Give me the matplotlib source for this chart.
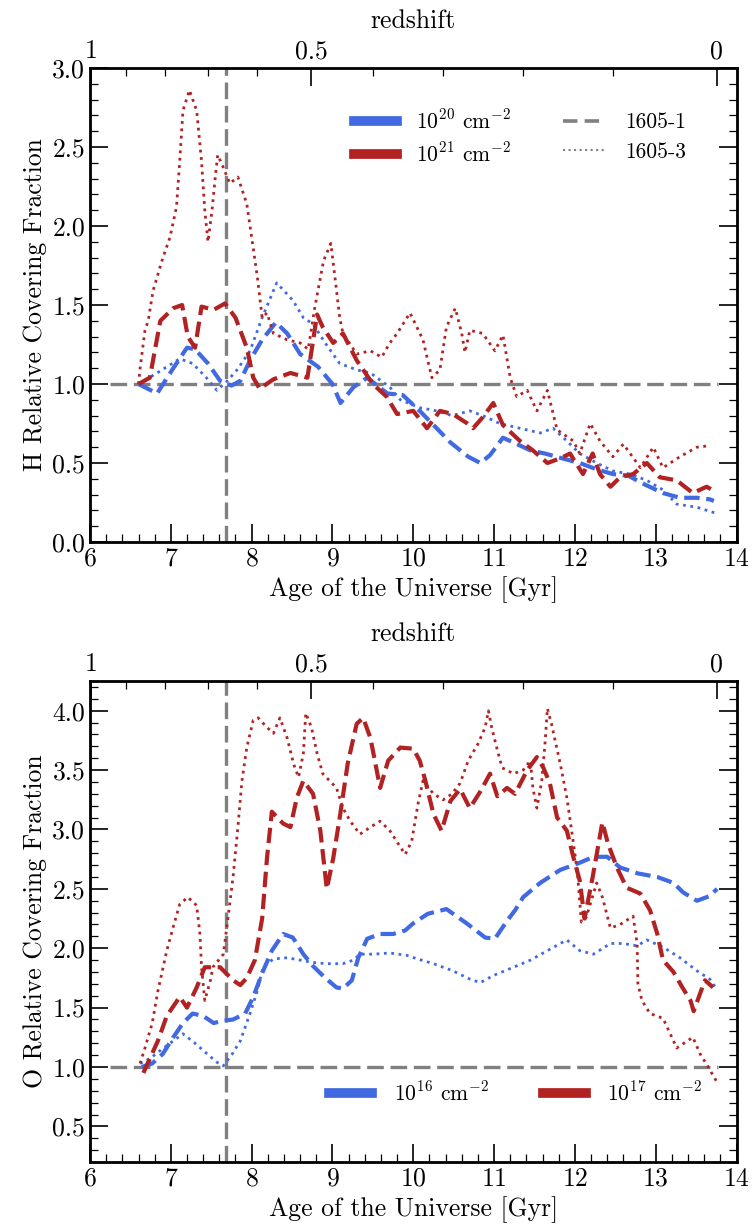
import numpy as np
import matplotlib
matplotlib.use("Agg")
import matplotlib.pyplot as plt
from matplotlib.lines import Line2D
from matplotlib.ticker import MultipleLocator

plt.rcParams["font.family"] = "serif"
plt.rcParams["font.serif"] = ["cmr10"]
plt.rcParams["mathtext.fontset"] = "cm"
plt.rcParams["axes.formatter.use_mathtext"] = True
plt.rcParams["axes.unicode_minus"] = False

BLUE = "royalblue"
RED = "firebrick"
GRAY = "gray"

# ---- H covering fraction (top panel) ----
h20_1_age = [6.60, 6.83, 7.03, 7.20, 7.30, 7.46, 7.61, 7.75, 7.86, 7.98, 8.13, 8.30, 8.44, 8.60, 8.82,
             9.00, 9.10, 9.26, 9.43, 9.68, 9.87, 10.08, 10.29, 10.46, 10.68, 10.83, 10.95, 11.11,
             11.24, 11.45, 11.63, 11.84, 12.06, 12.27, 12.47, 12.66, 12.84, 13.09, 13.30, 13.51, 13.67, 13.72]
h20_1_val = [1.00, 0.94, 1.10, 1.23, 1.22, 1.13, 1.02, 0.99, 1.02, 1.15, 1.28, 1.39, 1.32, 1.19, 1.11,
             1.00, 0.88, 0.98, 1.04, 0.94, 0.93, 0.83, 0.72, 0.63, 0.54, 0.50, 0.55, 0.66,
             0.63, 0.58, 0.56, 0.53, 0.50, 0.46, 0.43, 0.42, 0.37, 0.31, 0.28, 0.28, 0.27, 0.26]

h20_3_age = [6.60, 6.83, 7.11, 7.27, 7.44, 7.57, 7.70, 7.82, 7.98, 8.13, 8.31, 8.51, 8.64, 8.76, 8.91,
             9.09, 9.30, 9.47, 9.71, 9.84, 10.08, 10.29, 10.48, 10.70, 10.86, 11.07, 11.32, 11.57,
             11.73, 11.90, 12.06, 12.27, 12.47, 12.68, 12.89, 13.09, 13.26, 13.51, 13.76]
h20_3_val = [1.00, 1.07, 1.16, 1.13, 1.04, 0.96, 1.02, 1.09, 1.21, 1.42, 1.64, 1.53, 1.42, 1.38, 1.26,
             1.13, 1.09, 1.07, 0.98, 0.90, 0.85, 0.83, 0.80, 0.83, 0.80, 0.75, 0.72, 0.69,
             0.72, 0.64, 0.56, 0.50, 0.45, 0.43, 0.39, 0.33, 0.24, 0.22, 0.18]

h21_1_age = [6.60, 6.74, 6.87, 7.03, 7.14, 7.21, 7.30, 7.38, 7.53, 7.67, 7.80, 7.94, 8.02, 8.10, 8.27,
             8.48, 8.69, 8.81, 8.88, 9.01, 9.13, 9.30, 9.50, 9.67, 9.80, 10.00, 10.17, 10.33, 10.49,
             10.67, 10.74, 10.86, 10.99, 11.11, 11.32, 11.48, 11.66, 11.82, 11.94, 12.10, 12.22,
             12.31, 12.44, 12.56, 12.72, 12.89, 13.05, 13.26, 13.46, 13.63, 13.70]
h21_1_val = [1.00, 1.04, 1.40, 1.48, 1.50, 1.30, 1.23, 1.49, 1.47, 1.51, 1.42, 1.23, 1.04, 0.97, 1.03,
             1.07, 1.04, 1.44, 1.36, 1.26, 1.32, 1.15, 1.00, 0.92, 0.81, 0.83, 0.72, 0.83, 0.81,
             0.75, 0.72, 0.79, 0.88, 0.74, 0.64, 0.58, 0.50, 0.53, 0.56, 0.43, 0.56,
             0.43, 0.35, 0.41, 0.43, 0.50, 0.41, 0.39, 0.31, 0.35, 0.33]

h21_3_age = [6.60, 6.62, 6.68, 6.72, 6.78, 6.89, 6.99, 7.07, 7.11, 7.15, 7.23, 7.32, 7.38, 7.42, 7.46,
             7.51, 7.55, 7.58, 7.65, 7.73, 7.83, 7.94, 8.00, 8.07, 8.13, 8.19, 8.27, 8.44, 8.60,
             8.70, 8.78, 8.89, 8.98, 9.03, 9.09, 9.13, 9.30, 9.47, 9.61, 9.71, 9.80, 9.96, 10.12,
             10.23, 10.33, 10.41, 10.52, 10.60, 10.64, 10.70, 10.86, 11.01, 11.11, 11.20, 11.28,
             11.41, 11.53, 11.66, 11.78, 11.98, 12.06, 12.19, 12.31, 12.47, 12.60, 12.81, 12.97,
             13.09, 13.30, 13.51, 13.67]
h21_3_val = [1.00, 1.10, 1.34, 1.40, 1.59, 1.78, 1.93, 2.12, 2.41, 2.73, 2.86, 2.73, 2.41, 2.10, 1.90,
             2.10, 2.31, 2.45, 2.37, 2.27, 2.31, 2.14, 1.93, 1.68, 1.42, 1.45, 1.32, 1.28, 1.26,
             1.22, 1.48, 1.78, 1.89, 1.68, 1.42, 1.32, 1.19, 1.21, 1.17, 1.26, 1.32, 1.45, 1.28,
             1.04, 1.09, 1.36, 1.48, 1.32, 1.20, 1.34, 1.32, 1.21, 1.31, 1.04, 0.92,
             0.96, 0.83, 0.96, 0.71, 0.64, 0.56, 0.75, 0.64, 0.54, 0.62, 0.47, 0.60,
             0.47, 0.54, 0.60, 0.61]

# ---- O covering fraction (bottom panel) ----
o16_1_age = [6.64, 6.77, 6.90, 7.03, 7.15, 7.27, 7.40, 7.53, 7.65, 7.77, 7.92, 8.02, 8.13, 8.25, 8.39,
             8.51, 8.64, 8.76, 8.91, 9.05, 9.13, 9.24, 9.32, 9.43, 9.59, 9.75, 9.90, 10.00, 10.18,
             10.41, 10.66, 10.89, 11.01, 11.16, 11.26, 11.36, 11.57, 11.82, 12.06, 12.23, 12.40,
             12.56, 12.78, 13.02, 13.22, 13.34, 13.51, 13.67, 13.76]
o16_1_val = [1.00, 1.03, 1.11, 1.25, 1.37, 1.45, 1.43, 1.37, 1.39, 1.40, 1.45, 1.59, 1.79, 1.98, 2.12,
             2.09, 1.95, 1.85, 1.75, 1.67, 1.66, 1.73, 1.92, 2.08, 2.12, 2.12, 2.15, 2.21, 2.29,
             2.33, 2.21, 2.09, 2.08, 2.23, 2.32, 2.43, 2.55, 2.66, 2.72, 2.77, 2.77,
             2.68, 2.63, 2.60, 2.55, 2.47, 2.40, 2.44, 2.50]

o16_3_age = [6.62, 6.74, 6.89, 7.03, 7.15, 7.30, 7.45, 7.57, 7.65, 7.76, 7.86, 7.98, 8.07, 8.14, 8.27,
             8.44, 8.60, 8.76, 8.93, 9.13, 9.26, 9.34, 9.50, 9.71, 9.92, 10.05, 10.25, 10.49, 10.70,
             10.83, 10.99, 11.24, 11.45, 11.66, 11.90, 12.06, 12.23, 12.44, 12.60, 12.77, 12.89,
             13.09, 13.30, 13.51, 13.67, 13.76]
o16_3_val = [1.03, 1.07, 1.15, 1.22, 1.28, 1.20, 1.11, 1.04, 1.01, 1.11, 1.22, 1.45, 1.64, 1.84, 1.91,
             1.92, 1.90, 1.88, 1.87, 1.87, 1.90, 1.95, 1.95, 1.96, 1.94, 1.91, 1.87, 1.81, 1.74,
             1.71, 1.77, 1.84, 1.90, 1.98, 2.07, 1.98, 1.95, 2.04, 2.04, 2.02, 2.07,
             2.01, 1.92, 1.81, 1.74, 1.65]

o17_1_age = [6.66, 6.84, 6.95, 7.11, 7.20, 7.32, 7.42, 7.61, 7.77, 7.86, 7.94, 8.04, 8.13, 8.19, 8.25,
             8.39, 8.48, 8.56, 8.64, 8.76, 8.85, 8.93, 9.01, 9.09, 9.19, 9.30, 9.38, 9.47, 9.55,
             9.59, 9.69, 9.84, 10.00, 10.08, 10.15, 10.25, 10.35, 10.46, 10.58, 10.70, 10.83,
             10.95, 11.04, 11.16, 11.26, 11.41, 11.53, 11.61, 11.69, 11.78, 11.90, 11.98, 12.06,
             12.12, 12.22, 12.34, 12.41, 12.52, 12.64, 12.81, 12.93, 13.02, 13.09, 13.22, 13.33,
             13.43, 13.47, 13.55, 13.61, 13.71]
o17_1_val = [0.95, 1.22, 1.43, 1.59, 1.50, 1.67, 1.84, 1.84, 1.73, 1.69, 1.75, 1.90, 2.25, 2.76, 3.15,
             3.05, 3.02, 3.27, 3.41, 3.30, 2.99, 2.50, 2.76, 3.10, 3.56, 3.89, 3.94, 3.77, 3.49,
             3.35, 3.58, 3.69, 3.68, 3.58, 3.41, 3.13, 2.99, 3.24, 3.34, 3.18, 3.32,
             3.47, 3.28, 3.35, 3.30, 3.50, 3.61, 3.52, 3.39, 3.10, 2.99, 2.77, 2.57,
             2.25, 2.60, 3.06, 2.88, 2.68, 2.51, 2.46, 2.32, 2.12, 1.90, 1.80, 1.67,
             1.56, 1.47, 1.62, 1.73, 1.67]

o17_3_age = [6.62, 6.68, 6.77, 6.84, 6.95, 7.03, 7.11, 7.21, 7.32, 7.36, 7.38, 7.42, 7.49, 7.52, 7.65,
             7.71, 7.77, 7.83, 7.88, 7.94, 8.02, 8.08, 8.19, 8.27, 8.35, 8.44, 8.52, 8.58, 8.64,
             8.67, 8.74, 8.81, 8.88, 9.05, 9.13, 9.22, 9.34, 9.47, 9.59, 9.71, 9.90, 9.98, 10.06,
             10.12, 10.25, 10.37, 10.48, 10.58, 10.68, 10.80, 10.89, 10.93, 10.97, 11.04, 11.10,
             11.24, 11.36, 11.45, 11.48, 11.53, 11.59, 11.63, 11.66, 11.71, 11.82, 11.90, 11.96,
             12.03, 12.08, 12.14, 12.27, 12.34, 12.44, 12.56, 12.72, 12.77, 12.78, 12.83, 12.93,
             13.09, 13.20, 13.26, 13.46, 13.55, 13.65, 13.76]
o17_3_val = [1.03, 1.16, 1.37, 1.64, 1.98, 2.18, 2.37, 2.43, 2.36, 2.12, 1.84, 1.56, 1.73, 1.84, 1.95,
             2.27, 2.60, 3.02, 3.41, 3.69, 3.92, 3.94, 3.86, 3.81, 3.94, 3.77, 3.55, 3.44, 3.64,
             3.98, 3.86, 3.64, 3.47, 3.35, 3.18, 3.07, 2.96, 3.02, 3.07, 2.99, 2.79, 2.90, 3.22,
             3.41, 3.30, 3.25, 3.30, 3.39, 3.58, 3.72, 3.86, 4.00, 3.86, 3.67, 3.52,
             3.47, 3.50, 3.58, 3.35, 3.18, 3.41, 3.72, 4.02, 3.89, 3.55, 3.27, 2.99,
             2.65, 2.22, 2.26, 2.55, 2.43, 2.17, 2.20, 2.27, 2.04, 1.70, 1.56, 1.45,
             1.41, 1.25, 1.16, 1.25, 1.11, 1.00, 0.87]

# galaxy age marking and redshift axis ticks
age_mark = 7.68
z_major = [1.0, 0.5, 0.0]
z_major_labels = ["1", "0.5", "0"]
z_minor = [0.9, 0.8, 0.7, 0.6, 0.4, 0.3, 0.2, 0.1]


def age_of_z(z, om=0.26, h0=71.3):
    # flat LCDM age in Gyr
    ol = 1.0 - om
    hubble_time = 977.8 / h0
    a = np.asarray(z, dtype=float)
    return 2.0 / (3.0 * np.sqrt(ol)) * hubble_time * np.arcsinh(np.sqrt(ol / om) * (1 + a) ** -1.5)


def style_axes(ax):
    ax.set_xlim(6, 14)
    ax.xaxis.set_major_locator(MultipleLocator(1))
    ax.xaxis.set_minor_locator(MultipleLocator(0.2))
    ax.yaxis.set_major_locator(MultipleLocator(0.5))
    ax.yaxis.set_minor_locator(MultipleLocator(0.1))
    ax.yaxis.set_major_formatter(matplotlib.ticker.FormatStrFormatter("%.1f"))
    ax.tick_params(which="both", direction="in", top=False, right=True, labelsize=18.5)
    ax.tick_params(which="major", length=13, width=1.2)
    ax.tick_params(which="minor", length=6, width=0.9)
    for s in ax.spines.values():
        s.set_linewidth(2.0)
    ax.set_xlabel("Age of the Universe [Gyr]", fontsize=18.5)
    ax.axvline(age_mark, color=GRAY, lw=2.4, ls=(0, (5, 2)), zorder=1)
    ax.hlines(1.0, 6.25, 13.77, color=GRAY, lw=2.4, linestyles=[(0, (5, 2))], zorder=1)

    top = ax.twiny()
    top.set_xlim(ax.get_xlim())
    top.set_xticks(age_of_z(z_major))
    top.set_xticklabels(z_major_labels)
    top.set_xticks(age_of_z(z_minor), minor=True)
    top.tick_params(which="both", direction="in", labelsize=18.5)
    top.tick_params(which="major", length=13, width=1.2)
    top.tick_params(which="minor", length=6, width=0.9)
    top.set_xlabel("redshift", fontsize=18.5, labelpad=8)
    return top


fig = plt.figure(figsize=(7.52, 12.26), dpi=100)
ax1 = fig.add_axes([0.1197, 0.5579, 0.8597, 0.3866])
ax2 = fig.add_axes([0.1197, 0.0522, 0.8597, 0.3923])

dash = dict(ls="--", lw=3.0)
dot = dict(ls=":", lw=2.0)

ax1.plot(h20_1_age, h20_1_val, color=BLUE, **dash)
ax1.plot(h20_3_age, h20_3_val, color=BLUE, **dot)
ax1.plot(h21_1_age, h21_1_val, color=RED, **dash)
ax1.plot(h21_3_age, h21_3_val, color=RED, **dot)
ax1.set_ylim(0, 3.0)
ax1.set_ylabel("H Relative Covering Fraction", fontsize=18.5)
style_axes(ax1)

handles = [Line2D([], [], color=BLUE, lw=7),
           Line2D([], [], color=RED, lw=7),
           Line2D([], [], color=GRAY, lw=2.6, ls=(0, (4, 2))),
           Line2D([], [], color=GRAY, lw=1.5, ls=":")]
labels = [r"$10^{20}$ cm$^{-2}$", r"$10^{21}$ cm$^{-2}$", "1605-1", "1605-3"]
ax1.legend(handles, labels, loc="upper left", bbox_to_anchor=(0.378, 0.955), ncol=2,
           frameon=False, fontsize=15.5, handlelength=2.0, handletextpad=0.9,
           columnspacing=2.4, labelspacing=0.45)

ax2.plot(o16_1_age, o16_1_val, color=BLUE, **dash)
ax2.plot(o16_3_age, o16_3_val, color=BLUE, **dot)
ax2.plot(o17_1_age, o17_1_val, color=RED, **dash)
ax2.plot(o17_3_age, o17_3_val, color=RED, **dot)
ax2.set_ylim(0.2, 4.25)
ax2.set_ylabel("O Relative Covering Fraction", fontsize=18.5)
style_axes(ax2)

handles2 = [Line2D([], [], color=BLUE, lw=7), Line2D([], [], color=RED, lw=7)]
labels2 = [r"$10^{16}$ cm$^{-2}$", r"$10^{17}$ cm$^{-2}$"]
ax2.legend(handles2, labels2, loc="lower left", bbox_to_anchor=(0.34, 0.08), ncol=2,
           frameon=False, fontsize=15.5, handlelength=2.0, handletextpad=1.0,
           columnspacing=2.5)

fig.savefig("out.png", dpi=100)
